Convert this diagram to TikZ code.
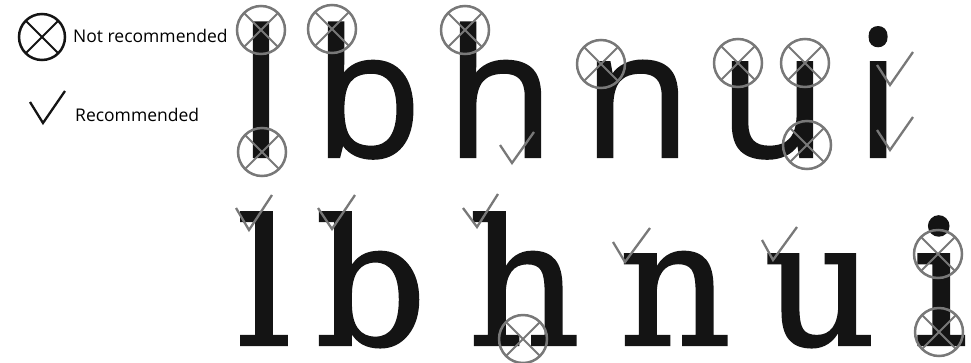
\documentclass[tikz,border=0pt]{standalone}
\usepackage{fontspec}
\setmainfont{Open Sans}
\newfontfamily\sansletters[FakeBold=1.2]{Open Sans}
\newfontfamily\slabletters[FakeBold=1.2]{DejaVu Serif}
\usepackage{xcolor}
\definecolor{markgray}{RGB}{120,120,120}
\definecolor{inkblack}{RGB}{20,20,20}
\usetikzlibrary{positioning}

\tikzset{
  nogo/.style={circle, draw=markgray, line width=2.5pt, minimum size=48pt, inner sep=0pt,
    path picture={\draw[markgray, line width=2pt]
      (path picture bounding box.north west) -- (path picture bounding box.south east)
      (path picture bounding box.north east) -- (path picture bounding box.south west);}},
  okmark/.style={draw=markgray, line width=2.3pt},
  sansglyph/.style={inner sep=0pt, anchor=base, text=inkblack, font=\sansletters\fontsize{177}{177}\selectfont},
  slabglyph/.style={inner sep=0pt, anchor=base, text=inkblack, font=\slabletters\fontsize{175}{175}\selectfont},
  legendtext/.style={inner sep=0pt, anchor=base west, font=\fontsize{17.5}{17.5}\selectfont}
}

\begin{document}
\begin{tikzpicture}[x=1pt, y=-1pt]
  \useasboundingbox (0,0) rectangle (971,362);
  \clip (0,0) rectangle (971,362);

  % legend
  \node[nogo, draw=inkblack, minimum size=46pt, path picture={\draw[inkblack, line width=2pt]
      (path picture bounding box.north west) -- (path picture bounding box.south east)
      (path picture bounding box.north east) -- (path picture bounding box.south west);}] (legno) at (42,37) {};
  \node[legendtext] (legnotext) at (73,42) {Not recommended};
  \coordinate (legok) at (43,123);
  \draw[okmark, draw=inkblack] (30,102) -- (legok) -- (65,91);
  \node[legendtext] (legoktext) at (75,121) {Recommended};

  % sans row
  \node[sansglyph] (sl) at (261,157) {l};
  \node[sansglyph] (sb) at (368,157) {b};
  \node[sansglyph] (sh) at (500,157) {h};
  \node[sansglyph] (sn) at (637,157) {n};
  \node[sansglyph] (su) at (773,157) {u};
  \node[sansglyph] (si) at (878,157) {i};

  % slab row
  \node[slabglyph] (fl) at (264,345) {l};
  \node[slabglyph] (fb) at (371,345) {b};
  \node[slabglyph] (fh) at (524,345) {h};
  \node[slabglyph] (fn) at (675,345) {n};
  \node[slabglyph] (fu) at (820,345) {u};
  \node[slabglyph] (fi) at (940,345) {i};

  % marks on the sans row
  \node[nogo] (slTop) at (261,30) {};
  \node[nogo] (slBot) at (262,152) {};
  \node[nogo] (sbTop) at (332,29) {};
  \node[nogo] (shTop) at (465,30) {};
  \node[nogo] (snTop) at (601,64) {};
  \node[nogo] (suLeft) at (738,63) {};
  \node[nogo] (suRight) at (805,63) {};
  \node[nogo] (suBot) at (807,145) {};
  \draw[okmark] (500,145) -- (512,163) -- (534,132);
  \draw[okmark] (877,65) -- (890,85) -- (913,52);
  \draw[okmark] (877,130) -- (890,150) -- (913,117);

  % marks on the slab row
  \draw[okmark] (236,208) -- (249,230) -- (272,195);
  \draw[okmark] (318,208) -- (332,229) -- (355,195);
  \draw[okmark] (463,208) -- (477,227) -- (498,194);
  \draw[okmark] (613,242) -- (625,262) -- (650,228);
  \draw[okmark] (762,240) -- (773,260) -- (797,227);
  \node[nogo] (fhBot) at (523,339) {};
  \node[nogo] (fiTop) at (938,254) {};
  \node[nogo] (fiBot) at (939,332) {};
\end{tikzpicture}
\end{document}
